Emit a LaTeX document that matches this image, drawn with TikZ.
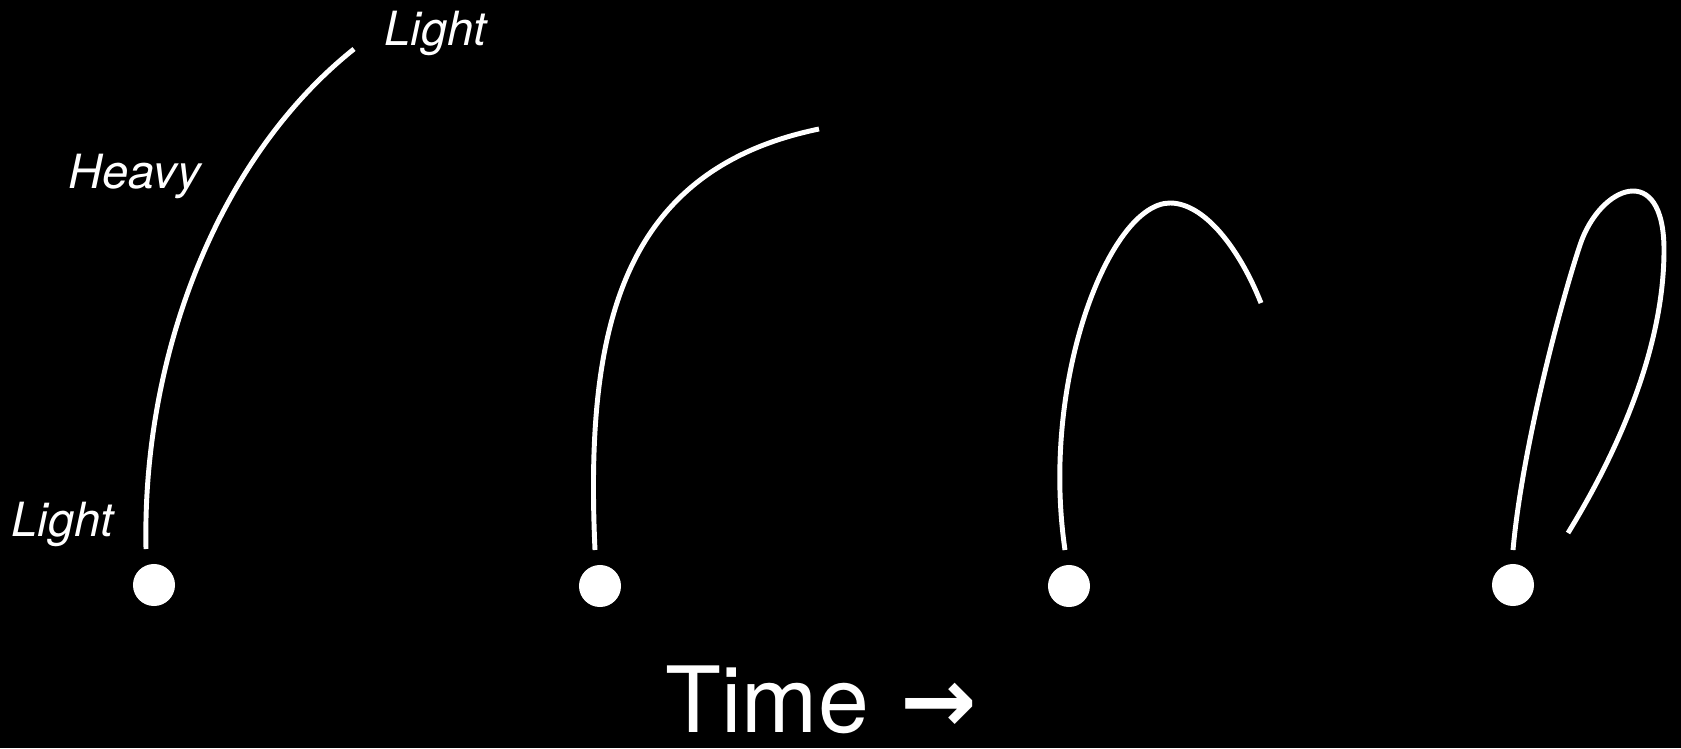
\documentclass[tikz,border=0pt]{standalone}
\usepackage{fontspec}
\setmainfont{TeX Gyre Heros}
\newfontfamily\arrowfont{DejaVu Sans}
\begin{document}
\begin{tikzpicture}[
  x=0.01cm, y=-0.01cm,
  dot/.style={circle, fill=white, inner sep=0pt, minimum size=0.42cm},
  strand/.style={draw=white, line width=1.4pt},
  note/.style={text=white, inner sep=0pt, anchor=base west,
    font=\fontsize{13.4}{16}\selectfont\itshape}
]
\fill[black] (0,0) rectangle (1681,748);

\node[dot] (root1) at (154,585) {};
\node[dot] (root2) at (600,586) {};
\node[dot] (root3) at (1069,586) {};
\node[dot] (root4) at (1513,585) {};

\coordinate (foot1) at (146,549);
\coordinate (foot2) at (595,550);
\coordinate (foot3) at (1065,550);
\coordinate (foot4) at (1513,550);

\draw[strand] (foot1) .. controls (142,360) and (215,160) .. (354,49);
\draw[strand] (foot2) .. controls (585,330) and (620,170) .. (819,129);
\draw[strand] (foot3) .. controls (1040,380) and (1110,203) .. (1170,203)
  .. controls (1205,203) and (1240,250) .. (1261,303);
\draw[strand] (foot4) .. controls (1522,450) and (1560,305) .. (1580,245)
  .. controls (1600,185) and (1664,160) .. (1664,250)
  .. controls (1664,340) and (1625,440) .. (1568,533);

\node[note] (lighttop) at (384,45) {Light};
\node[note] (heavy) at (68,188) {Heavy};
\node[note] (lightfoot) at (11,536) {Light};
\node[text=white, inner sep=0pt, anchor=base west,
  font=\fontsize{26}{30}\selectfont] (time) at (665,732)
  {Time\hspace{0.35em}{\arrowfont\bfseries →}};
\end{tikzpicture}
\end{document}
